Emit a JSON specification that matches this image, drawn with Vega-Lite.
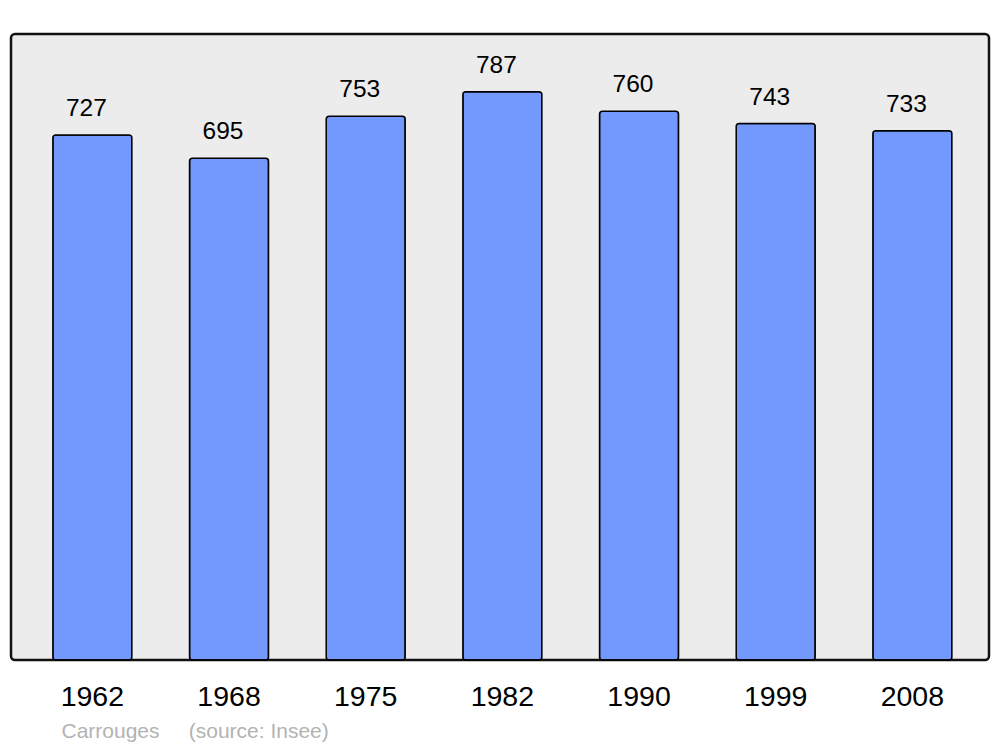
{
  "$schema": "https://vega.github.io/schema/vega-lite/v6.json",
  "width": 978,
  "height": 626,
  "autosize": {"type": "none"},
  "padding": {"left": 11, "top": 34, "right": 11, "bottom": 87},
  "background": "white",
  "config": {
    "font": "Liberation Sans",
    "view": {"fill": "#ececec", "stroke": "#111111", "strokeWidth": 2.5, "cornerRadius": 4}
  },
  "data": {
    "values": [
      {"year": "1962", "pop": 727},
      {"year": "1968", "pop": 695},
      {"year": "1975", "pop": 753},
      {"year": "1982", "pop": 787},
      {"year": "1990", "pop": 760},
      {"year": "1999", "pop": 743},
      {"year": "2008", "pop": 733}
    ]
  },
  "encoding": {
    "x": {
      "field": "year",
      "type": "ordinal",
      "sort": null,
      "scale": {"paddingInner": 0.422, "paddingOuter": 0.289, "align": 0.53},
      "axis": {
        "title": "Carrouges\u00a0\u00a0\u00a0\u00a0\u00a0(source: Insee)",
        "titleFont": "Liberation Sans",
        "titleFontSize": 21,
        "titleFontWeight": "normal",
        "titleColor": "#b3b3b3",
        "titleAlign": "left",
        "titleAnchor": "start",
        "titleBaseline": "alphabetic",
        "titleX": 50,
        "titleY": 77,
        "labelAngle": 0,
        "labelFontSize": 28.5,
        "labelColor": "black",
        "labelBaseline": "alphabetic",
        "labelPadding": 45,
        "labelDx": -3,
        "ticks": false,
        "domain": false,
        "grid": false
      }
    },
    "y": {
      "field": "pop",
      "type": "quantitative",
      "scale": {"domain": [0, 867], "nice": false},
      "axis": null
    }
  },
  "layer": [
    {
      "mark": {"type": "bar", "fill": "#7399ff", "stroke": "black", "strokeWidth": 1.5, "cornerRadius": 3}
    },
    {
      "mark": {"type": "text", "baseline": "alphabetic", "dy": -19, "dx": -6, "fontSize": 24.5, "color": "black"},
      "encoding": {"text": {"field": "pop", "type": "quantitative"}}
    }
  ]
}
